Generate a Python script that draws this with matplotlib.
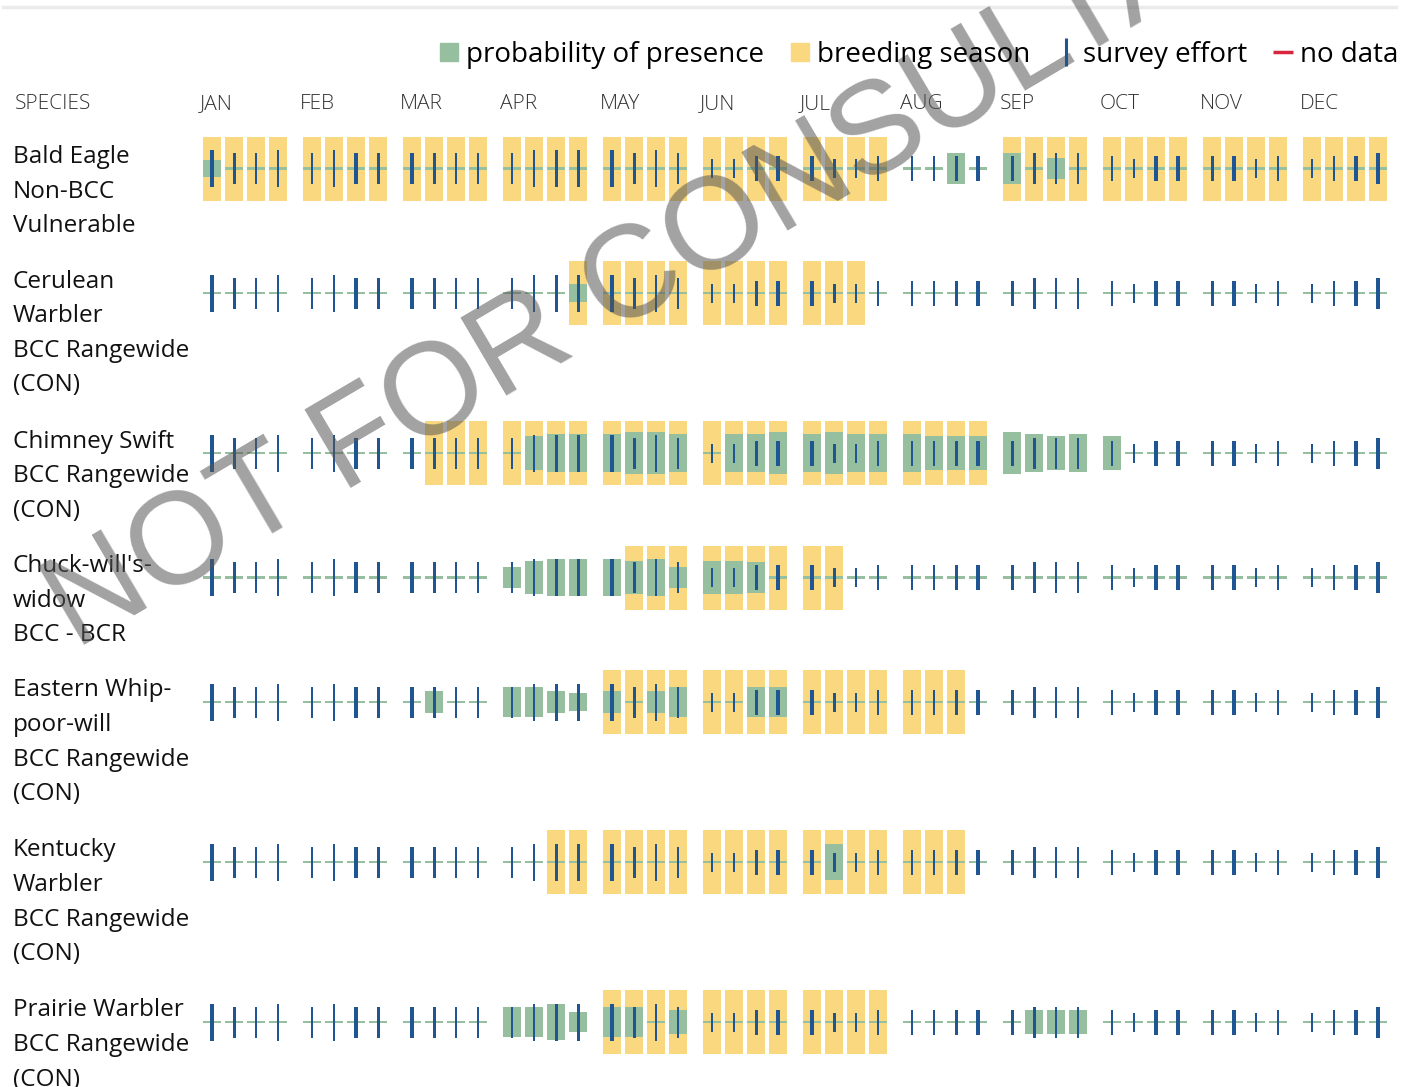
import matplotlib.pyplot as plt
from matplotlib.lines import Line2D

plt.rcParams['font.family'] = ['Open Sans', 'DejaVu Sans']

months = ['JAN', 'FEB', 'MAR', 'APR', 'MAY', 'JUN', 'JUL', 'AUG', 'SEP', 'OCT', 'NOV', 'DEC']

species_labels = [
    ['Bald Eagle', 'Non-BCC', 'Vulnerable'],
    ['Cerulean', 'Warbler', 'BCC Rangewide', '(CON)'],
    ['Chimney Swift', 'BCC Rangewide', '(CON)'],
    ["Chuck-will's-", 'widow', 'BCC - BCR'],
    ['Eastern Whip-', 'poor-will', 'BCC Rangewide', '(CON)'],
    ['Kentucky', 'Warbler', 'BCC Rangewide', '(CON)'],
    ['Prairie Warbler', 'BCC Rangewide', '(CON)'],
]

# breeding season as (first week, last week), weeks numbered 0..47
breeding = [
    [(0, 27), (32, 47)],
    [(15, 26)],
    [(9, 31)],
    [(17, 25)],
    [(16, 30)],
    [(14, 30)],
    [(16, 27)],
]

# probability of presence, week -> value (0..1 of cell height)
presence = [
    {0: .28, 30: .47, 32: .47, 34: .34},
    {15: .28},
    {13: .53, 14: .59, 15: .59, 16: .59, 17: .66, 18: .66, 19: .59, 21: .59, 22: .59,
     23: .66, 24: .59, 25: .66, 26: .59, 27: .59, 28: .59, 29: .53, 30: .53, 31: .53,
     32: .66, 33: .59, 34: .53, 35: .59, 36: .53},
    {12: .34, 13: .53, 14: .59, 15: .59, 16: .59, 17: .53, 18: .59, 19: .34,
     20: .53, 21: .53, 22: .47},
    {9: .34, 12: .47, 13: .47, 14: .34, 15: .28, 16: .34, 18: .34, 19: .47, 22: .47, 23: .47},
    {25: .55},
    {12: .48, 13: .48, 14: .55, 15: .30, 16: .48, 17: .48, 19: .36, 33: .36, 34: .36, 35: .36},
]

# survey effort per week (same for every species): length level and thickness level
effort_len = [4, 3, 3, 4, 3, 4, 3, 3, 3, 3, 3, 3, 3, 4, 4, 4,
              4, 3, 4, 3, 1, 1, 2, 2, 2, 1, 1, 2, 2, 2, 2, 2,
              2, 3, 3, 3, 2, 1, 2, 2, 2, 2, 1, 2, 1, 2, 2, 3]
effort_wid = [4, 3, 2, 2, 2, 2, 4, 3, 4, 3, 2, 2, 2, 2, 3, 3,
              4, 3, 2, 2, 2, 2, 3, 4, 4, 3, 2, 2, 2, 2, 3, 4,
              3, 3, 2, 2, 2, 2, 4, 4, 3, 4, 2, 2, 2, 2, 4, 4]

GREEN = '#96bf9f'
YELLOW = '#fad87f'
BLUE = '#1f5592'
RED = '#d7263d'

cell_w = 18.3
cell_h = 64
len_px = {1: 19, 2: 25, 3: 31, 4: 37}
wid_px = {2: 2.2, 3: 3.2, 4: 4.3}

fig = plt.figure(figsize=(14.13, 10.87), dpi=100)
ax = fig.add_axes([0, 0, 1, 1])
ax.set_xlim(0, 1413)
ax.set_ylim(1087, 0)
ax.axis('off')

ax.axhline(7, xmin=3 / 1413, xmax=1396 / 1413, color='#ebebeb', linewidth=2.5)

# header
ax.text(15, 104, 'SPECIES', fontsize=15, color='#333333', va='center', ha='left',
        fontweight='light')
for m, name in enumerate(months):
    ax.text(200 + 100 * m, 104, name, fontsize=15, color='#333333', va='center', ha='left',
            fontweight='light')

week_x = [203 + 100 * (k // 4) + 22 * (k % 4) + cell_w / 2 for k in range(48)]

top = 155
for i, lines in enumerate(species_labels):
    for j, line in enumerate(lines):
        ax.text(13, top + 2 + j * 34.6, line, fontsize=17.5, color='#111111',
                va='center', ha='left')
    yc = top + 13.5

    # breeding season
    for a, b in breeding[i]:
        xs = week_x[a:b + 1]
        ax.bar(xs, [cell_h] * len(xs), width=cell_w, bottom=yc - cell_h / 2,
               color=YELLOW, zorder=1)

    # baseline
    ax.bar(week_x, [2.6] * 48, width=cell_w, bottom=yc - 1.3, color=GREEN, zorder=2)

    # probability of presence
    wk = list(presence[i].keys())
    hs = [presence[i][k] * cell_h for k in wk]
    ax.bar([week_x[k] for k in wk], hs, width=cell_w,
           bottom=[yc - h / 2 for h in hs], color=GREEN, zorder=2)

    # survey effort
    ls = [len_px[v] for v in effort_len]
    ax.bar(week_x, ls, width=[wid_px[v] for v in effort_wid],
           bottom=[yc - l / 2 for l in ls], color=BLUE, zorder=3)

    top += 35.5 * len(lines) + 18

# legend
handles = [
    Line2D([], [], marker='s', ls='none', color=GREEN, markersize=13, label='probability of presence'),
    Line2D([], [], marker='s', ls='none', color=YELLOW, markersize=13, label='breeding season'),
    Line2D([], [], marker='|', ls='none', color=BLUE, markersize=20, markeredgewidth=2.2, label='survey effort'),
    Line2D([], [], marker='_', ls='none', color=RED, markersize=15, markeredgewidth=2.5, label='no data'),
]
fig.legend(handles=handles, loc='center right', bbox_to_anchor=(1398 / 1413, 1 - 55 / 1087),
           ncol=4, frameon=False, fontsize=20, handlelength=0.7, handletextpad=0.25,
           columnspacing=0.95, borderpad=0, borderaxespad=0)

# watermark
ax.text(75, 650, 'NOT FOR CONSULTATION', fontsize=94, color='#555555', alpha=0.55,
        rotation=30.5, rotation_mode='anchor', ha='left', va='baseline',
        family='Liberation Sans', zorder=5)

fig.savefig('out.png', dpi=100)
